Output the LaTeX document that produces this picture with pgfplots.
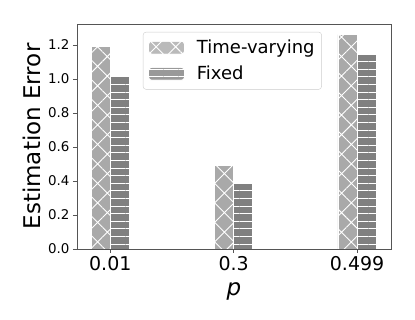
\documentclass[border=0pt]{standalone}
\usepackage{fontspec}
\setmainfont{DejaVu Sans}
\usepackage{pgfplots}
\pgfplotsset{compat=1.18}
\usetikzlibrary{patterns.meta}

\definecolor{tvgray}{HTML}{A9A9A9}
\definecolor{fxgray}{HTML}{808080}
\definecolor{spine}{HTML}{555555}

\pgfplotsset{
  barkey/.style={legend image code/.code={%
    \draw[##1] (0pt,-6.5pt) rectangle (36pt,6.5pt);}},
}

\begin{document}
\begin{tikzpicture}

\begin{axis}[
  width=314pt,
  height=225pt,
  scale only axis,
  ybar,
  xmin=-0.27,
  xmax=2.275,
  ymin=0,
  ymax=1.323,
  xtick={0,1,2},
  xticklabels={0.01,0.3,0.499},
  ytick={0,0.2,0.4,0.6,0.8,1.0,1.2},
  yticklabel style={/pgf/number format/fixed, /pgf/number format/fixed zerofill,
    /pgf/number format/precision=1},
  /pgf/number format/assume math mode=true,
  xtick pos=bottom,
  ytick pos=left,
  tick align=outside,
  major tick length=4pt,
  tick style={spine, line width=0.8pt},
  axis line style={spine, line width=0.8pt},
  x tick label style={font=\fontsize{19}{22}\selectfont},
  y tick label style={font=\fontsize{13.4}{16}\selectfont},
  label style={font=\fontsize{23}{26}\selectfont},
  xlabel={\textit{p}},
  xlabel style={yshift=-5pt},
  ylabel={Estimation Error},
  legend cell align=left,
  legend style={at={(0.21,0.965)}, anchor=north west,
    draw=black!20, rounded corners=3pt, fill=white, fill opacity=0.8, text opacity=1,
    font=\fontsize{18}{21}\selectfont, inner xsep=5pt, inner ysep=6pt, row sep=7pt,
    /tikz/every odd column/.append style={column sep=10pt}},
]
\addplot[barkey, bar width=0.155, bar shift=-0.0775, fill=tvgray, draw=white, line width=0.8pt,
  postaction={pattern={Hatch[angle=45,distance=13.8pt,line width=0.9pt]}, pattern color=white}]
  coordinates {(0,1.19) (1,0.49) (2,1.26)};
\addlegendentry{Time-varying}
\addplot[barkey, bar width=0.155, bar shift=0.0775, fill=fxgray, draw=white, line width=0.8pt,
  postaction={pattern={Lines[angle=0,distance=7.6pt,line width=0.9pt]}, pattern color=white}]
  coordinates {(0,1.015) (1,0.385) (2,1.145)};
\addlegendentry{Fixed}
\end{axis}

\path (current axis.south west) ++(-77pt,-71pt) coordinate (bbA);
\path (current axis.north east) ++(24pt,24pt) coordinate (bbB);
\path (bbA) rectangle (bbB);

\end{tikzpicture}
\end{document}
